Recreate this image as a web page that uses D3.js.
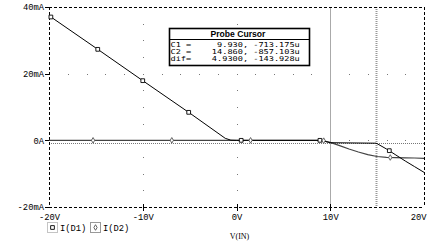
<!DOCTYPE html>
<html><head><meta charset="utf-8">
<script src="https://cdn.jsdelivr.net/npm/d3@7"></script>
<style>html,body{margin:0;padding:0;background:#fff;}svg{display:block;}</style>
</head><body>
<script>
// ---- data ----
const xTicks = [-20, -10, 0, 10, 20];
const xTickLabels = ["-20V", "-10V", "0V", "10V", "20V"];
const yTicks = [40, 20, 0, -20];
const yTickLabels = ["40mA", "20mA", "0A", "-20mA"];

const d1V = [-20, -15, -10, -5, -1.2, -0.6, 0, 9, 10, 14.86, 15, 16, 17, 18, 19, 20];
const d1I = [37.4, 27.7, 17.9, 8.2, 0.6, 0.05, 0, 0, -0.713, -0.857, -1.0, -2.6, -4.4, -6.2, -7.9, -9.6];
const d2V = [-20, 9, 10, 11, 12, 13, 14, 15, 16, 17, 18, 19, 20];
const d2I = [0, 0, -0.6, -1.6, -2.6, -3.5, -4.3, -4.85, -5.1, -5.2, -5.25, -5.3, -5.4];

const d1MarkV = [-19.8, -14.8, -10, -5.1, 0.5, 8.9, 16.3];
const d1MarkI = [37.0, 27.3, 17.9, 8.4, 0, 0, -3.1];
const d2MarkV = [-15.3, -6.9, 1.5, 9.3, 16.4];
const d2MarkI = [0, 0, 0, -0.1, -5.15];

const cursorNames = ["C1", "C2", "dif"];
const cursorX = ["9.930", "14.860", "4.9300"];
const cursorY = ["-713.175u", "-857.103u", "-143.928u"];
const cursorPosV = [9.93, 14.86];
const cursorPosI = [-0.713, -0.857];

const legendNames = ["I(D1)", "I(D2)"];
const xTitle = "V(IN)";

// ---- chart ----
const W = 428, H = 251;
const L = 49, R = 424, T = 7, B = 207;
const svg = d3.select("body").append("svg").attr("width", W).attr("height", H);
const x = d3.scaleLinear().domain([-20, 20]).range([L, R]);
const y = d3.scaleLinear().domain([-20, 40]).range([B, T]);
const mono = "'Liberation Mono', 'Courier New', monospace";

// grid dots
const dots = [];
[20, 0].forEach(yv => { for (let v = -18; v <= 18; v += 2) dots.push([x(v), y(yv)]); });
[-10, 0, 10].forEach(xv => { for (let i = -15; i <= 35; i += 5) if (i !== 0 && i !== 20) dots.push([x(xv), y(i)]); });
svg.append("g").selectAll("rect").data(dots).join("rect")
  .attr("x", d => Math.round(d[0])).attr("y", d => Math.round(d[1]))
  .attr("width", 1).attr("height", 1).attr("fill", "#777");

// cursors
svg.append("line").attr("x1", Math.round(x(cursorPosV[0])) + 0.5).attr("x2", Math.round(x(cursorPosV[0])) + 0.5)
  .attr("y1", T).attr("y2", B).attr("stroke", "#aaa").attr("stroke-width", 1);
svg.append("line").attr("x1", Math.round(x(cursorPosV[1])) + 0.5).attr("x2", Math.round(x(cursorPosV[1])) + 0.5)
  .attr("y1", T).attr("y2", B).attr("stroke", "#999").attr("stroke-width", 2).attr("stroke-dasharray", "1,1");
cursorPosI.forEach(c => {
  svg.append("line").attr("x1", L).attr("x2", R).attr("y1", Math.round(y(c)) + 0.5).attr("y2", Math.round(y(c)) + 0.5)
    .attr("stroke", "#777").attr("stroke-width", 1).attr("stroke-dasharray", "1,1");
});

// frame (dashed)
const frame = svg.append("g").attr("stroke", "#000").attr("stroke-width", 1).attr("stroke-dasharray", "3,2").attr("fill", "none");
frame.append("line").attr("x1", L).attr("x2", R).attr("y1", T + 0.5).attr("y2", T + 0.5);
frame.append("line").attr("x1", L).attr("x2", R).attr("y1", B + 0.5).attr("y2", B + 0.5);
frame.append("line").attr("x1", L + 0.5).attr("x2", L + 0.5).attr("y1", T).attr("y2", B);
frame.append("line").attr("x1", R + 0.5).attr("x2", R + 0.5).attr("y1", T).attr("y2", B);

// axes ticks & labels
const xAxis = d3.axisBottom(x).tickValues(xTicks).tickSize(0).tickFormat((d, i) => xTickLabels[i]);
const gx = svg.append("g").attr("transform", `translate(0,${B})`).call(xAxis);
gx.select(".domain").remove();
gx.selectAll("text").attr("font-family", mono).attr("font-size", "8.8px").attr("fill", "#000").attr("dy", null).attr("y", 13)
  .attr("text-anchor", (d, i) => i === xTicks.length - 1 ? "end" : "middle")
  .attr("dx", (d, i) => i === xTicks.length - 1 ? "2" : "0");
svg.append("g").selectAll("line").data(xTicks.slice(1, -1)).join("line")
  .attr("x1", d => Math.round(x(d)) + 0.5).attr("x2", d => Math.round(x(d)) + 0.5)
  .attr("y1", B - 3).attr("y2", B + 4).attr("stroke", "#000");

const yAxis = d3.axisLeft(y).tickValues(yTicks).tickSize(0).tickFormat((d, i) => yTickLabels[i]);
const gy = svg.append("g").attr("transform", `translate(${L},0)`).call(yAxis);
gy.select(".domain").remove();
gy.selectAll("text").attr("font-family", mono).attr("font-size", "8.8px").attr("fill", "#000").attr("x", -5);
svg.append("g").selectAll("line").data(yTicks).join("line")
  .attr("x1", L - 4).attr("x2", L + 1).attr("y1", d => Math.round(y(d)) + 0.5).attr("y2", d => Math.round(y(d)) + 0.5)
  .attr("stroke", "#000");

// series
const line = d3.line().x(d => x(d[0])).y(d => y(d[1]));
svg.append("path").datum(d2V.map((v, i) => [v, d2I[i]])).attr("d", line)
  .attr("fill", "none").attr("stroke", "#444").attr("stroke-width", 1.2);
svg.append("path").datum(d1V.map((v, i) => [v, d1I[i]])).attr("d", line)
  .attr("fill", "none").attr("stroke", "#000").attr("stroke-width", 1);

const sq = d3.symbol().type(d3.symbolSquare).size(14);
const dm = d3.symbol().type(d3.symbolDiamond).size(9);
svg.append("g").selectAll("path").data(d1MarkV.map((v, i) => [v, d1MarkI[i]])).join("path")
  .attr("d", sq).attr("transform", d => `translate(${x(d[0])},${y(d[1])})`)
  .attr("fill", "#fff").attr("stroke", "#000").attr("stroke-width", 0.9);
svg.append("g").selectAll("path").data(d2MarkV.map((v, i) => [v, d2MarkI[i]])).join("path")
  .attr("d", dm).attr("transform", d => `translate(${x(d[0])},${y(d[1])})`)
  .attr("fill", "#fff").attr("stroke", "#555").attr("stroke-width", 0.9);

// probe cursor box
const bx = 169, by = 28, bw = 140, bh = 37;
const box = svg.append("g");
box.append("rect").attr("x", bx + 0.5).attr("y", by + 0.5).attr("width", bw).attr("height", bh)
  .attr("fill", "#fff").attr("stroke", "#000").attr("stroke-width", 1.6);
box.append("line").attr("x1", bx).attr("x2", bx + bw).attr("y1", by + 11.5).attr("y2", by + 11.5).attr("stroke", "#000");
box.append("text").attr("x", bx + bw / 2 - 1).attr("y", by + 9).attr("text-anchor", "middle")
  .attr("font-family", "'Liberation Sans', Arial, sans-serif").attr("font-weight", "bold").attr("font-size", "8.6px")
  .text("Probe Cursor");
const rowText = cursorNames.map((n, i) => {
  const lhs = n === "dif" ? "dif=" : n + " =";
  const xs = (cursorX[i] + ",").padStart(11, " ");
  return lhs + xs + " " + cursorY[i];
});
box.selectAll("text.row").data(rowText).join("text").attr("class", "row")
  .attr("transform", (d, i) => `translate(${bx + 1.5},${by + 18.8 + i * 7.2}) scale(1,0.78)`)
  .attr("font-family", "'DejaVu Sans Mono', monospace").attr("font-size", "8.6px")
  .attr("xml:space", "preserve").style("white-space", "pre").text(d => d);

// legend
const lg = svg.append("g");
const lgx = [47, 90];
lg.append("rect").attr("x", lgx[0] + 0.5).attr("y", 222.5).attr("width", 10).attr("height", 10)
  .attr("fill", "none").attr("stroke", "#888").attr("stroke-dasharray", "1,1");
lg.append("rect").attr("x", lgx[1] + 0.5).attr("y", 222.5).attr("width", 10).attr("height", 10)
  .attr("fill", "none").attr("stroke", "#999");
lg.append("path").attr("d", sq).attr("transform", `translate(${lgx[0] + 5.5},${227.5})`)
  .attr("fill", "#fff").attr("stroke", "#000").attr("stroke-width", 0.9);
lg.append("path").attr("d", dm).attr("transform", `translate(${lgx[1] + 5.5},${227.5})`)
  .attr("fill", "#fff").attr("stroke", "#555").attr("stroke-width", 0.9);
lg.selectAll("text").data(legendNames).join("text")
  .attr("x", (d, i) => lgx[i] + 13).attr("y", 230.5)
  .attr("font-family", mono).attr("font-size", "8.8px").text(d => d);

svg.append("text").attr("x", x(0) + 3).attr("y", 239).attr("text-anchor", "middle")
  .attr("font-family", "'Liberation Serif', serif").attr("font-size", "8px").text(xTitle);
</script>
</body></html>
